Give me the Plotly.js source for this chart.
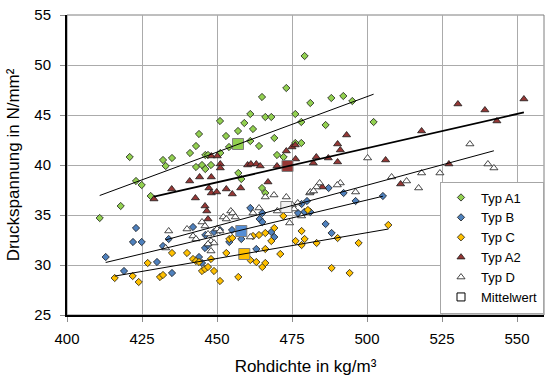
<!DOCTYPE html>
<html><head><meta charset="utf-8">
<script src="https://cdn.plot.ly/plotly-3.0.1.min.js"></script>
<style>html,body{margin:0;padding:0;background:#fff}#chart{width:545px;height:378px}</style>
</head><body><div id="chart"></div>
<script>
// ---- data ----
const a1X = [479.2,473.1,465.0,461.1,466.1,468.1,476.1,478.1,481.1,451.0,459.1,462.0,457.0,444.0,453.0,469.1,461.1,464.0,443.0,454.0,478.1,476.1,441.0,451.1,446.1,447.0,470.0,472.2,420.9,432.0,435.0,432.9,443.0,445.0,448.0,446.1,423.0,424.9,427.9,417.9,410.9,457.1,458.1,465.0,466.1,488.1,492.1,495.1,486.2,502.2];
const a1Y = [50.9,47.7,46.8,45.1,44.8,44.8,45.1,44.3,46.2,44.4,44.2,43.6,43.4,43.1,42.9,42.7,42.4,41.9,41.9,41.8,42.2,42.2,41.2,41.2,41.0,41.0,41.0,40.8,40.8,40.5,40.7,39.9,39.8,40.0,40.0,39.6,38.4,38.0,36.9,35.9,34.7,39.2,38.6,37.7,37.2,46.7,46.9,46.4,44.0,44.3];

const bX = [423.0,422.0,424.9,412.9,419.0,430.0,435.0,432.0,433.9,442.0,446.1,449.0,451.0,455.0,454.1,458.1,461.1,465.1,464.2,465.1,468.1,469.1,446.0,447.0,444.0,445.0,463.1,478.2,480.0,477.0,479.1,481.1,487.2,492.2,496.2,505.3,486.2,488.2];
const bY = [33.7,32.3,32.3,30.8,29.4,30.3,29.2,31.9,32.6,33.8,33.0,33.3,33.5,33.5,32.3,32.6,35.7,35.2,34.6,34.3,33.3,32.8,31.7,32.0,30.8,30.2,31.6,36.1,36.4,35.2,35.3,35.3,37.7,37.2,36.4,36.9,34.1,33.2];

const cX = [415.9,421.9,423.9,426.9,431.0,432.0,435.0,440.0,442.0,443.0,444.0,445.0,446.0,447.0,448.0,449.0,451.0,453.1,454.1,455.1,457.1,461.1,463.1,465.1,466.1,462.0,464.0,466.1,469.1,468.1,466.1,471.1,472.1,476.2,478.2,478.2,480.3,479.2,507.1,483.2,490.2,497.2,488.2,494.2];
const cY = [28.7,28.9,28.3,30.2,28.8,29.0,31.2,31.2,30.6,30.4,30.3,29.4,29.6,29.8,30.6,29.4,28.4,31.2,32.6,32.7,28.8,30.5,30.3,29.8,30.2,32.9,33.0,33.2,33.7,32.4,31.6,31.1,34.9,32.4,32.0,33.4,35.5,32.6,34.0,32.2,32.7,32.2,29.7,29.2];

const a2X = [429.0,434.9,440.9,444.2,448.1,442.8,447.3,448.1,449.9,453.1,455.1,457.9,467.0,446.0,446.6,447.0,448.1,450.1,451.1,451.1,460.2,461.3,463.1,464.4,470.0,473.1,475.0,476.1,476.2,482.1,483.1,485.1,487.1,490.2,490.2,491.1,493.2,506.2,511.2,518.2,527.3,530.3,539.3,543.3,552.3];
const a2Y = [36.6,37.6,38.4,38.8,38.8,36.7,37.7,37.2,37.3,37.6,37.1,37.7,38.3,35.9,35.4,34.6,40.9,40.9,40.1,39.7,40.0,40.1,40.1,39.9,39.9,41.4,41.8,42.0,40.6,40.2,40.8,37.8,40.7,42.1,40.3,41.5,43.0,40.5,38.1,43.4,40.1,46.1,45.5,44.4,46.6];

const dX = [469.0,473.1,466.1,454.6,455.2,464.0,462.0,456.1,452.1,453.1,445.0,446.0,440.0,433.9,442.0,443.0,447.0,450.0,451.0,448.0,449.0,447.0,432.9,448.0,461.1,470.1,474.2,478.2,480.9,524.3,518.2,508.2,513.2,517.2,491.1,490.1,484.2,483.2,481.1,482.2,496.2,476.9,475.1,475.7,500.2,534.3,540.3,542.3];
const dY = [37.0,36.8,36.8,35.4,35.2,35.7,35.2,34.8,34.8,34.6,34.3,33.9,33.6,33.4,32.9,32.6,33.1,33.6,33.4,32.4,32.2,32.1,31.7,31.4,32.8,35.4,34.2,34.9,37.2,39.2,39.2,38.8,38.4,37.7,38.2,38.0,38.2,37.8,37.3,37.4,37.3,36.2,36.0,35.6,40.7,42.1,40.1,39.7];

const seriesNames = ["Typ A1","Typ B","Typ C","Typ A2","Typ D"];
const meanLabel = "Mittelwert";
const meanX = [457.0, 458.1, 459.1, 473.5, 473.1];
const meanY = [42.1, 33.4, 31.1, 39.9, 35.8];
const xTicks = [400,425,450,475,500,525,550];
const yTicks = [25,30,35,40,45,50,55];
const xTitle = "Rohdichte in kg/m³";
const yTitle = "Druckspannung in N/mm²";

// ---- styling ----
const FONT = "Liberation Sans, Arial, sans-serif";
const seriesX = [a1X, bX, cX, a2X, dX];
const seriesY = [a1Y, bY, cY, a2Y, dY];
const fills = ["#92D050", "#4F81BD", "#FFC000", "#953735", "#FFFFFF"];
const symbols = ["diamond", "diamond", "diamond", "triangle-up", "triangle-up"];
const sizes = [5.6, 5.6, 5.6, 7, 7];
const meanFills = ["#92D050", "#558ED5", "#FFC000", "#953735", "#F2F2F2"];
const meanLines = ["#7F7F7F", "#7F7F7F", "#7F7F7F", "#7F7F7F", "#7F7F7F"];
const lineWidths = [1, 1, 1, 1.8, 1];

function linfit(xs, ys) {
  const n = xs.length;
  let mx = 0, my = 0;
  for (let i = 0; i < n; i++) { mx += xs[i]; my += ys[i]; }
  mx /= n; my /= n;
  let sxy = 0, sxx = 0;
  for (let i = 0; i < n; i++) { sxy += (xs[i]-mx)*(ys[i]-my); sxx += (xs[i]-mx)*(xs[i]-mx); }
  const b = sxy / sxx, a = my - b*mx;
  const x0 = Math.min(...xs), x1 = Math.max(...xs);
  return {x: [x0, x1], y: [a + b*x0, a + b*x1]};
}

const traces = [];
for (let i = 0; i < 5; i++) {
  traces.push({
    type: "scatter", mode: "markers", name: seriesNames[i],
    x: seriesX[i], y: seriesY[i], cliponaxis: false,
    marker: {symbol: symbols[i], size: sizes[i], color: fills[i], line: {color: "#1a1a1a", width: 0.8}}
  });
}
traces.push({
  type: "scatter", mode: "markers", name: meanLabel, x: [null], y: [null],
  marker: {symbol: "square", size: 8, color: "#FFFFFF", line: {color: "#000000", width: 1}}
});
for (let i = 0; i < 5; i++) {
  traces.push({
    type: "scatter", mode: "markers", showlegend: false, hoverinfo: "skip",
    x: [meanX[i]], y: [meanY[i]],
    marker: {symbol: "square", size: 11, color: meanFills[i], line: {color: meanLines[i], width: 1}}
  });
}
for (let i = 0; i < 5; i++) {
  const f = linfit(seriesX[i], seriesY[i]);
  traces.push({
    type: "scatter", mode: "lines", showlegend: false, hoverinfo: "skip",
    x: f.x, y: f.y, line: {color: "#000000", width: lineWidths[i]}
  });
}

const layout = {
  width: 545, height: 378,
  margin: {l: 67, r: 1, t: 15, b: 63},
  paper_bgcolor: "#ffffff", plot_bgcolor: "#ffffff",
  font: {family: FONT, size: 15, color: "#000000"},
  showlegend: true,
  xaxis: {
    range: [400, 559], tickvals: xTicks, ticktext: xTicks.map(String),
    showgrid: true, gridcolor: "#ABABAB", gridwidth: 1, zeroline: false,
    showline: true, linecolor: "#000000", linewidth: 2,
    ticks: "outside", ticklen: 5, tickcolor: "#8C8C8C", ticklabelstandoff: 4,
    tickfont: {family: FONT, size: 15, color: "#000000"},
    title: {text: xTitle, font: {family: FONT, size: 17, color: "#000000"}, standoff: 14}
  },
  yaxis: {
    range: [25, 55], tickvals: yTicks, ticktext: yTicks.map(String),
    showgrid: true, gridcolor: "#ABABAB", gridwidth: 1, zeroline: false,
    showline: true, linecolor: "#000000", linewidth: 2,
    ticks: "outside", ticklen: 5, tickcolor: "#8C8C8C", ticklabelstandoff: 6,
    tickfont: {family: FONT, size: 15, color: "#000000"},
    title: {text: yTitle, font: {family: FONT, size: 17, color: "#000000"}, standoff: 10}
  },
  shapes: [{type: "rect", xref: "paper", yref: "paper", x0: 0, x1: 1, y0: 0, y1: 1,
            line: {color: "#7F7F7F", width: 1}, layer: "below"}],
  legend: {
    x: 1, xanchor: "right", y: 0.005, yanchor: "bottom",
    bgcolor: "#ffffff", bordercolor: "#A6A6A6", borderwidth: 1,
    font: {family: FONT, size: 13, color: "#000000"},
    itemwidth: 30, tracegroupgap: 0
  }
};

Plotly.newPlot("chart", traces, layout, {staticPlot: true, displayModeBar: false});
</script>
</body></html>
